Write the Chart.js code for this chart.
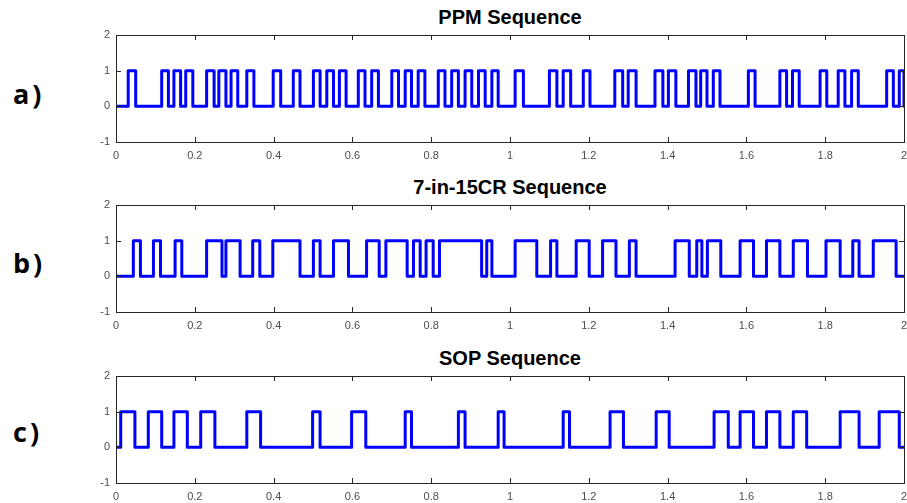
<!DOCTYPE html>
<html>
<head>
<meta charset="utf-8">
<script src="https://cdn.jsdelivr.net/npm/chart.js@4.4.1/dist/chart.umd.min.js"></script>
<style>
  body { margin: 0; width: 907px; height: 503px; overflow: hidden; background: #fff; position: relative; }
  .lbl { position: absolute; left: 13px; font: bold 27px "Open Sans", sans-serif; line-height: 27px; letter-spacing: 3px; color: #000; }
  .ttl { position: absolute; left: 116px; width: 788px; text-align: center; font: bold 20px "Liberation Sans", Arial, sans-serif; line-height: 22px; color: #000; }
  .box { position: absolute; left: 0; width: 907px; height: 170px; }
</style>
</head>
<body>
<div class="lbl" style="top:80px">a)</div>
<div class="lbl" style="top:249px">b)</div>
<div class="lbl" style="top:418px">c)</div>
<div class="ttl" style="top:6px">PPM Sequence</div>
<div class="ttl" style="top:176px">7-in-15CR Sequence</div>
<div class="ttl" style="top:347px">SOP Sequence</div>
<div class="box" style="top:0px"><canvas id="ppm" width="907" height="170"></canvas></div>
<div class="box" style="top:170px"><canvas id="cr" width="907" height="170"></canvas></div>
<div class="box" style="top:341px"><canvas id="sop" width="907" height="170"></canvas></div>
<script>
//==================================================Data (pulse edges, seconds)==================
var xMin = 0, xMax = 2;
var yTicks = [-1, 0, 1, 2];

// a) PPM
var ppmRise = [0.031, 0.116, 0.147, 0.177, 0.230, 0.261, 0.292, 0.332, 0.399, 0.450, 0.501, 0.535, 0.567, 0.615, 0.649,
    0.700, 0.734, 0.767, 0.818, 0.852, 0.886, 0.920, 0.954, 1.013, 1.100, 1.135, 1.186, 1.266, 1.300, 1.368, 1.402,
    1.453, 1.484, 1.516, 1.605, 1.685, 1.717, 1.787, 1.833, 1.867, 1.956, 1.988];
var ppmFall = [0.050, 0.133, 0.164, 0.195, 0.249, 0.279, 0.309, 0.350, 0.418, 0.467, 0.518, 0.552, 0.584, 0.632, 0.666,
    0.717, 0.750, 0.784, 0.835, 0.869, 0.903, 0.937, 0.970, 1.034, 1.119, 1.154, 1.203, 1.286, 1.320, 1.388, 1.421,
    1.472, 1.500, 1.533, 1.622, 1.702, 1.734, 1.804, 1.850, 1.884, 1.973, 2.0];

// b) 7-in-15CR
var crRise = [0.044, 0.095, 0.150, 0.230, 0.279, 0.347, 0.398, 0.501, 0.552, 0.636, 0.685, 0.755, 0.787, 0.821, 0.941,
    1.013, 1.103, 1.168, 1.235, 1.303, 1.419, 1.474, 1.501, 1.584, 1.651, 1.719, 1.802, 1.870, 1.922];
var crFall = [0.062, 0.113, 0.167, 0.269, 0.315, 0.365, 0.467, 0.518, 0.590, 0.668, 0.739, 0.772, 0.805, 0.928, 0.954,
    1.068, 1.119, 1.201, 1.269, 1.320, 1.455, 1.487, 1.535, 1.618, 1.685, 1.755, 1.838, 1.886, 1.980];

// c) SOP
var sopRise = [0.012, 0.082, 0.147, 0.215, 0.332, 0.499, 0.598, 0.734, 0.869, 0.970, 1.135, 1.254, 1.371, 1.518, 1.584,
    1.651, 1.719, 1.838, 1.937];
var sopFall = [0.048, 0.116, 0.181, 0.251, 0.367, 0.518, 0.634, 0.750, 0.886, 0.985, 1.151, 1.288, 1.404, 1.554, 1.618,
    1.685, 1.753, 1.886, 1.988];

//==================================================Helpers==================

//Turn the rise/fall lists into a square wave
function buildWave(rise, fall) {
    var pts = [{x: xMin, y: 0}];
    for (var i in rise) {
        pts.push({x: rise[i], y: 0});
        pts.push({x: rise[i], y: 1});
        pts.push({x: fall[i], y: 1});
        pts.push({x: fall[i], y: 0});
    }
    if (fall[fall.length - 1] < xMax) pts.push({x: xMax, y: 0});
    return pts;
}

//Matlab style box with inward ticks
var boxPlugin = {
    id: 'box',
    afterDatasetsDraw(chart) {
        var ctx = chart.ctx, a = chart.chartArea;
        var sx = chart.scales.x, sy = chart.scales.y;
        var len = 5;
        ctx.save();
        ctx.strokeStyle = '#262626';
        ctx.lineWidth = 1;
        ctx.beginPath();
        sx.ticks.forEach(t => {
            var px = Math.round(sx.getPixelForValue(t.value)) + 0.5;
            ctx.moveTo(px, a.bottom); ctx.lineTo(px, a.bottom - len);
            ctx.moveTo(px, a.top); ctx.lineTo(px, a.top + len);
        });
        sy.ticks.forEach(t => {
            var py = Math.round(sy.getPixelForValue(t.value)) + 0.5;
            ctx.moveTo(a.left, py); ctx.lineTo(a.left + len, py);
            ctx.moveTo(a.right, py); ctx.lineTo(a.right - len, py);
        });
        ctx.stroke();
        ctx.strokeRect(Math.round(a.left) + 0.5, Math.round(a.top) + 0.5,
            Math.round(a.right - a.left), Math.round(a.bottom - a.top));
        ctx.restore();
    }
};

var tickFont = {family: '"Liberation Sans", Arial, sans-serif', size: 11};

function makeChart(id, rise, fall) {
    return new Chart(document.getElementById(id), {
        type: 'line',
        data: {
            datasets: [{
                data: buildWave(rise, fall),
                borderColor: '#0000ff',
                borderWidth: 3,
                borderJoinStyle: 'round',
                pointRadius: 0,
                fill: false,
                tension: 0
            }]
        },
        options: {
            responsive: false,
            animation: false,
            layout: {padding: {left: 0, right: 3, top: 35, bottom: 0}},
            plugins: {
                legend: {display: false},
                tooltip: {enabled: false}
            },
            scales: {
                x: {
                    type: 'linear',
                    min: xMin,
                    max: xMax,
                    grid: {display: false, drawTicks: false},
                    border: {display: false},
                    ticks: {
                        stepSize: 0.2,
                        padding: 7,
                        color: '#4d4d4d',
                        font: tickFont,
                        maxRotation: 0,
                        autoSkip: false,
                        callback: v => String(Math.round(v * 10) / 10)
                    },
                    afterFit: s => { s.height = 28; s.paddingLeft = 0; s.paddingRight = 0; }
                },
                y: {
                    min: yTicks[0],
                    max: yTicks[yTicks.length - 1],
                    grid: {display: false, drawTicks: false},
                    border: {display: false},
                    ticks: {stepSize: 1, padding: 6, color: '#4d4d4d', font: tickFont},
                    afterFit: s => { s.width = 116; s.paddingTop = 0; s.paddingBottom = 0; }
                }
            }
        },
        plugins: [boxPlugin]
    });
}

makeChart('ppm', ppmRise, ppmFall);
makeChart('cr', crRise, crFall);
makeChart('sop', sopRise, sopFall);
</script>
</body>
</html>
